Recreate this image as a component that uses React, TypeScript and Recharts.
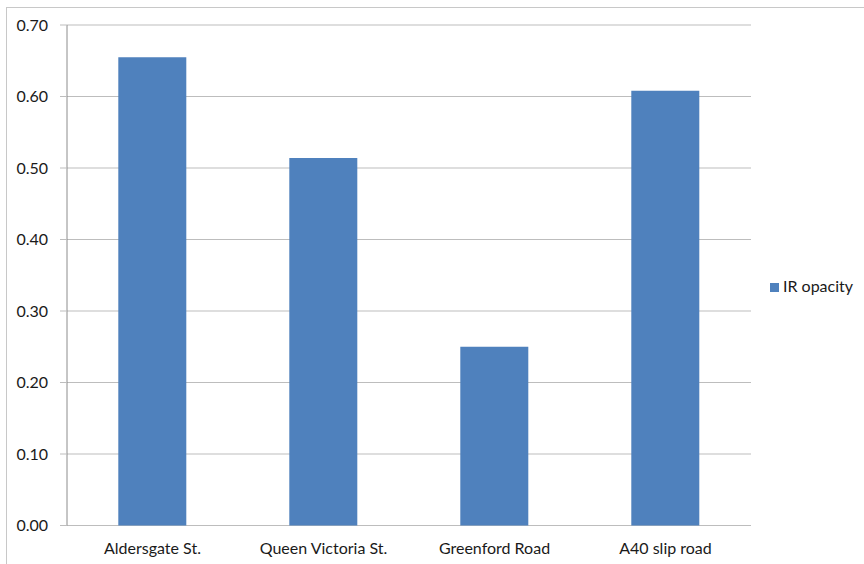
import React from 'react';
import { BarChart, Bar, XAxis, YAxis, CartesianGrid, Legend } from 'recharts';

const categories = ['Aldersgate St.', 'Queen Victoria St.', 'Greenford Road', 'A40 slip road'];
const irOpacity = [0.655, 0.514, 0.25, 0.608];
const yTicks = [0, 0.1, 0.2, 0.3, 0.4, 0.5, 0.6, 0.7];
const boundaryTicks = [0, 1, 2, 3, 4];

const data = categories.map((name, i) => ({ name, value: irOpacity[i] }));

const FONT = 'Lato, "Open Sans", sans-serif';

export default function App() {
  return (
    <div style={{ position: 'absolute', left: 0, top: 0, width: 864, height: 564, overflow: 'hidden', background: '#fff' }}>
      <div style={{ position: 'absolute', left: 6, top: 7, width: 858, height: 557, borderTop: '1px solid #C8C8C8', borderLeft: '1px solid #C8C8C8', boxSizing: 'border-box' }} />
      <div style={{ position: 'absolute', left: 0, top: 0 }}>
        <BarChart width={864} height={564} data={data} margin={{ top: 25, right: 113, bottom: 0, left: 7 }} barCategoryGap="30%">
          <CartesianGrid horizontal vertical={false} stroke="#BDBDBD" yAxisId="y" xAxisId="cat" />
          <XAxis
            xAxisId="bnd"
            type="number"
            domain={[0, 4]}
            ticks={boundaryTicks}
            tickFormatter={() => ''}
            height={0}
            axisLine={{ stroke: '#8C8C8C' }}
            tickLine={{ stroke: '#8C8C8C' }}
            tickSize={7}
            allowDataOverflow
          />
          <XAxis
            xAxisId="cat"
            dataKey="name"
            height={38.5}
            axisLine={false}
            tickLine={false}
            tickSize={0}
            tickMargin={17}
            tick={{ fill: '#1a1a1a', fontSize: 16, fontFamily: FONT }}
            interval={0}
          />
          <YAxis
            yAxisId="y"
            domain={[0, 0.7]}
            ticks={yTicks}
            width={60}
            tickFormatter={(v: number) => v.toFixed(2)}
            axisLine={{ stroke: '#8C8C8C' }}
            tickLine={{ stroke: '#BDBDBD' }}
            tickSize={7}
            tickMargin={12}
            tick={{ fill: '#1a1a1a', fontSize: 16, fontFamily: FONT }}
            interval={0}
          />
          <Legend
            layout="horizontal"
            verticalAlign="middle"
            align="center"
            iconType="square"
            iconSize={9}
            wrapperStyle={{ left: 769, top: 276, width: 95, fontFamily: FONT, fontSize: 16 }}
            formatter={(v: string) => <span style={{ color: '#1a1a1a' }}>{v}</span>}
          />
          <Bar
            xAxisId="cat"
            yAxisId="y"
            dataKey="value"
            name="IR opacity"
            fill="#4F81BD"
            isAnimationActive={false}
          />
        </BarChart>
      </div>
    </div>
  );
}
